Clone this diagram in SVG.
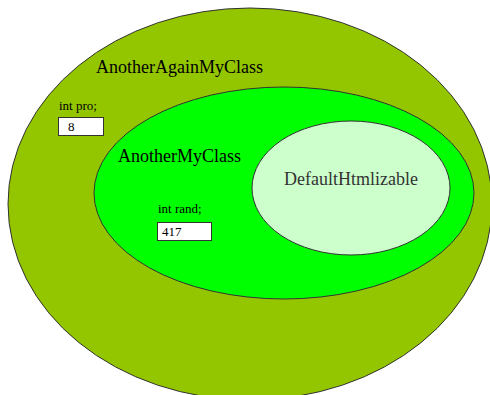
<svg xmlns="http://www.w3.org/2000/svg" width="490" height="395" viewBox="0 0 490 395">
<style>
.e{stroke:#333;stroke-width:1}
.t{font-family:"Liberation Serif","Times New Roman",serif;fill:#000}
.big{font-size:18px}
.small{font-size:13px}
.box{fill:#fff;stroke:#333;stroke-width:1}
</style>
<rect width="490" height="395" fill="#fff"/>
<g id="AnotherAgainMyClass">
<ellipse class="e" cx="250" cy="204" rx="242" ry="196" fill="#94c600"/>
<text class="t big" x="96" y="73">AnotherAgainMyClass</text>
<text class="t small" x="59" y="110">int pro;</text>
<rect class="box" x="58.5" y="117.5" width="45" height="18"/>
<text class="t small" x="68" y="131">8</text>
</g>
<g id="AnotherMyClass">
<ellipse class="e" cx="284" cy="193" rx="190" ry="106" fill="#00ff00"/>
<text class="t big" x="118" y="162">AnotherMyClass</text>
<text class="t small" x="158" y="213">int rand;</text>
<rect class="box" x="157.5" y="222.5" width="54" height="18"/>
<text class="t small" x="162" y="236">417</text>
</g>
<g id="DefaultHtmlizable">
<ellipse class="e" cx="351" cy="188" rx="99" ry="67" fill="#ccffcc"/>
<text class="t big" x="284" y="185" fill="#333" style="fill:#333">DefaultHtmlizable</text>
</g>
<g id="connectors"/>
</svg>
